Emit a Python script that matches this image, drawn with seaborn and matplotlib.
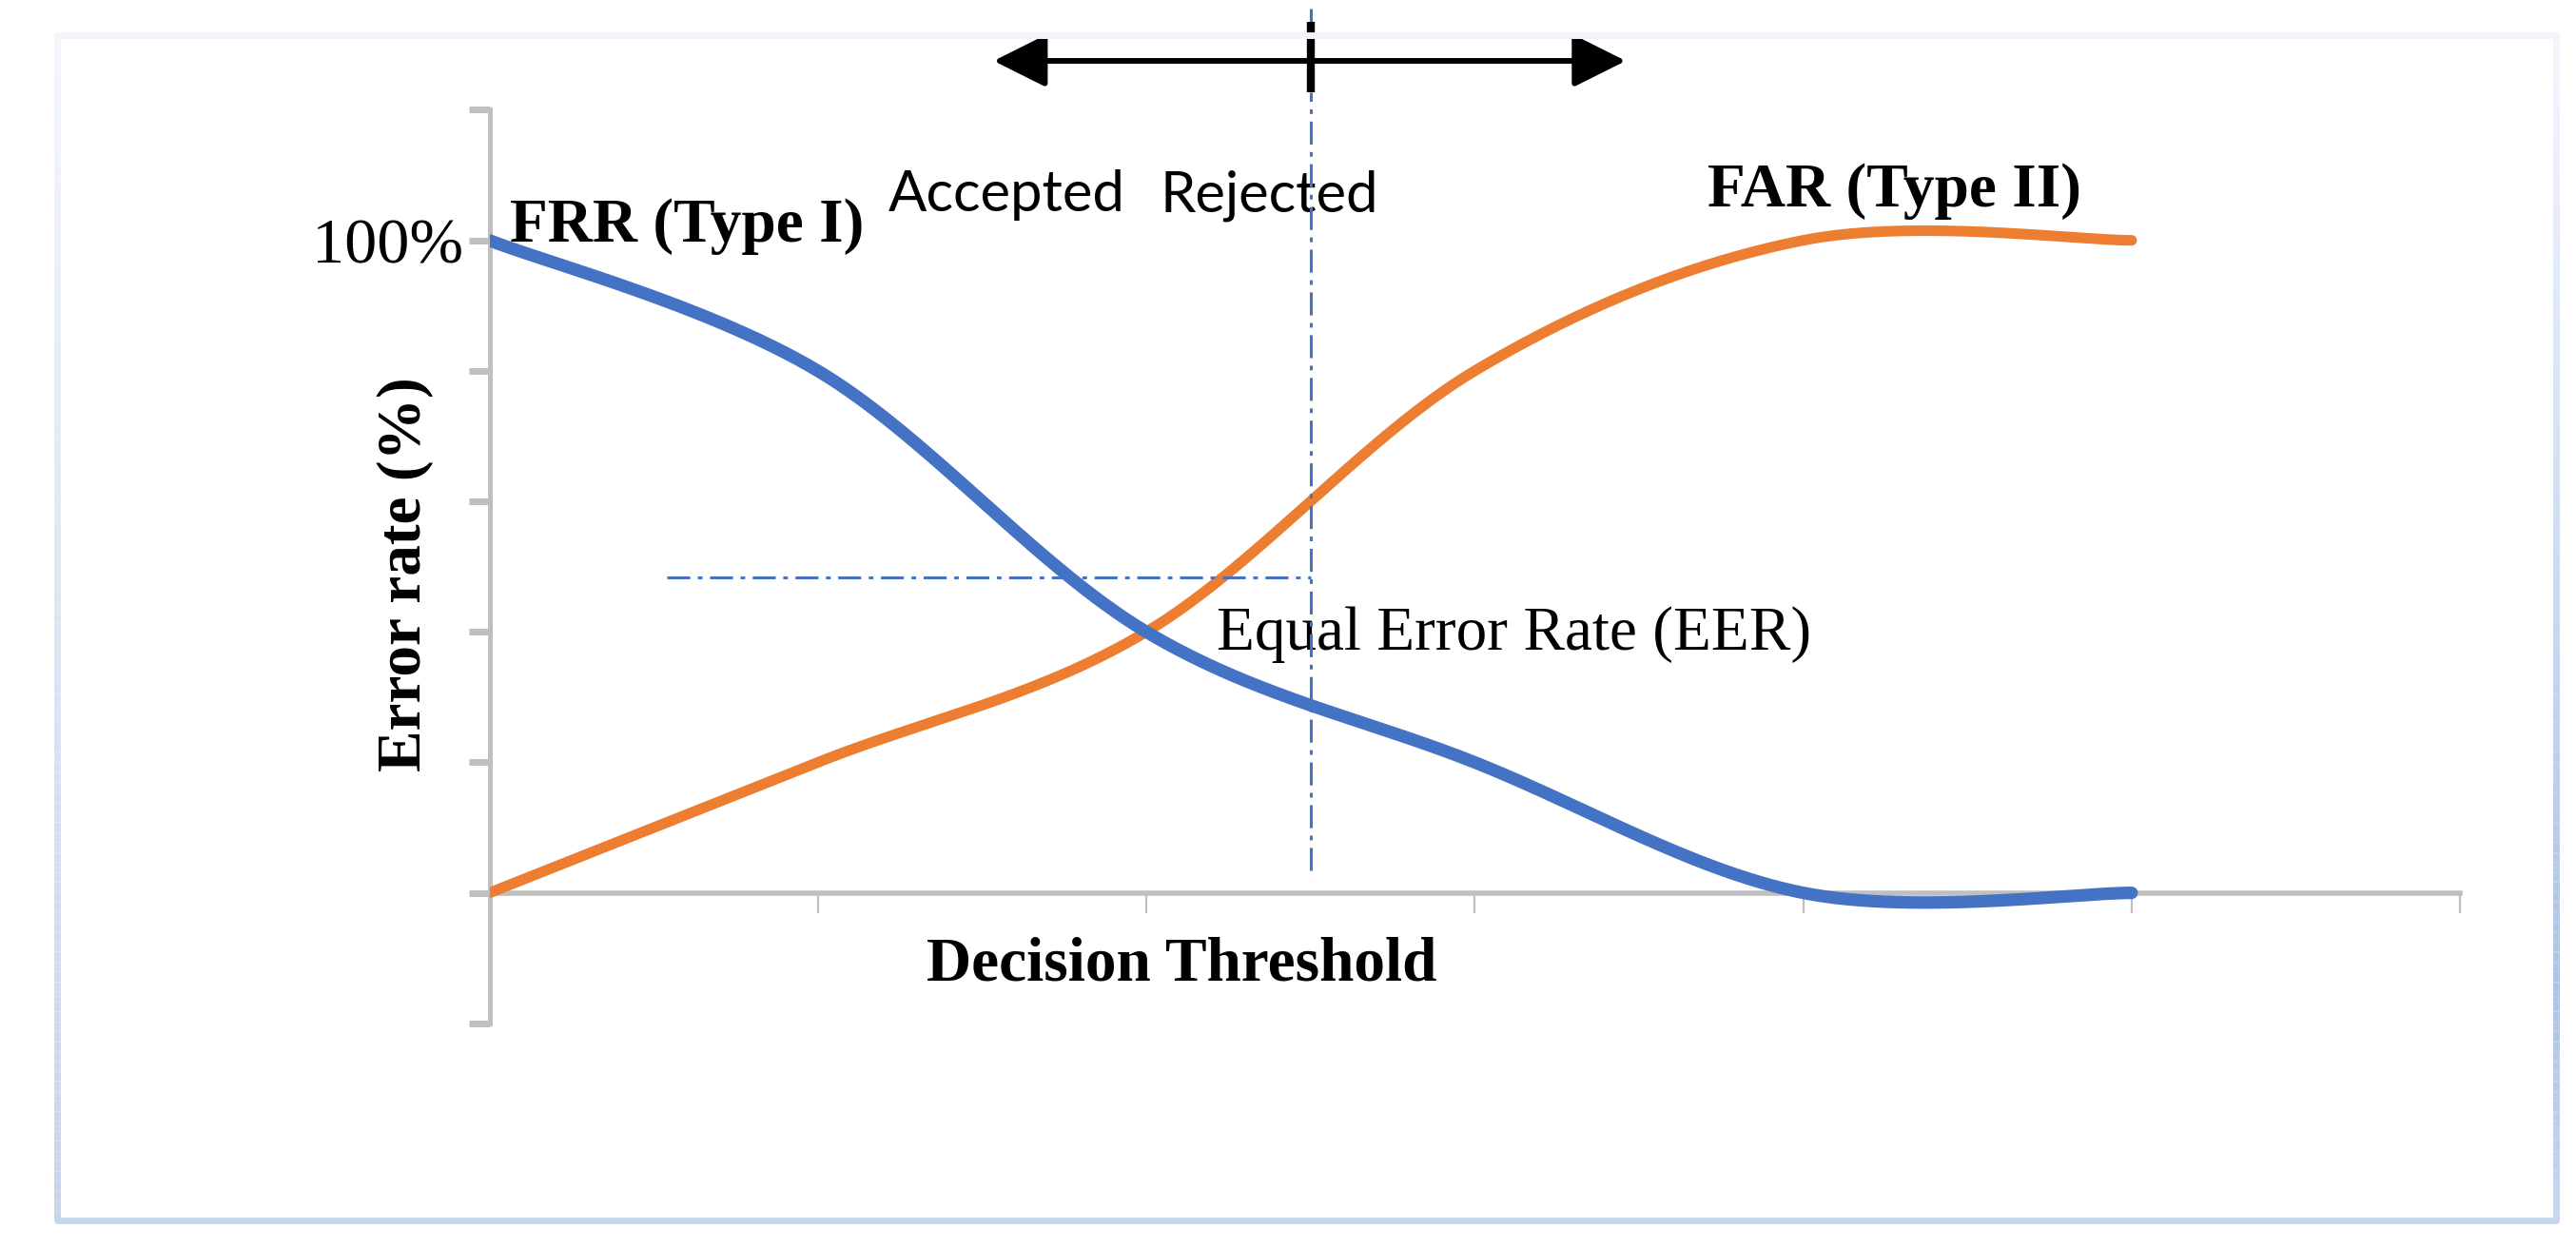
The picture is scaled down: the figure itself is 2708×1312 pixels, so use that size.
import numpy as np
import pandas as pd
import matplotlib
matplotlib.use("Agg")
import matplotlib.pyplot as plt
import seaborn as sns
from matplotlib.collections import LineCollection
from matplotlib.colors import to_rgb

# ---------------- data ----------------
thresholds = [0, 1, 2, 3, 4, 5]
frr_values = [1.0, 0.8, 0.4, 0.2, 0.0, 0.0]
far_values = [0.0, 0.2, 0.4, 0.8, 1.0, 1.0]
series_names = ["FRR (Type I)", "FAR (Type II)"]
series_colors = ["#4472C4", "#ED7D31"]
series_widths = [9.5, 8.0]
y_ticks = [-0.2, 0.0, 0.2, 0.4, 0.6, 0.8, 1.0, 1.2]
y_tick_labels = ["", "", "", "", "", "", "100%", ""]
x_ticks = [0, 1, 2, 3, 4, 5, 6]
threshold_x = 2.5
eer_level = 0.483
eer_line_start = 0.54

# ---------------- theme ----------------
sns.set_theme(style="white")
plt.rcParams["font.family"] = ["Liberation Serif", "DejaVu Sans"]
plt.rcParams["text.color"] = "black"
plt.rcParams["xtick.color"] = "black"
plt.rcParams["ytick.color"] = "black"
plt.rcParams["axes.labelcolor"] = "black"

SERIF = ["Liberation Serif", "DejaVu Serif"]
SANS = ["Lato", "DejaVu Sans"]
AXIS_GREY = "#BFBFBF"


def excel_smooth(xs, ys, n=60):
    """Catmull-Rom rendering, similar to Excel's 'smoothed line'."""
    p = np.column_stack([xs, ys]).astype(float)
    p = np.vstack([p[0], p, p[-1]])
    out = []
    t = np.linspace(0, 1, n, endpoint=False)[:, None]
    for i in range(len(p) - 3):
        p0, p1, p2, p3 = p[i], p[i + 1], p[i + 2], p[i + 3]
        seg = 0.5 * (2 * p1 + (-p0 + p2) * t
                     + (2 * p0 - 5 * p1 + 4 * p2 - p3) * t ** 2
                     + (-p0 + 3 * p1 - 3 * p2 + p3) * t ** 3)
        out.append(seg)
    out.append(p[-2][None, :])
    return np.vstack(out)


frames = []
for name, vals in zip(series_names, [frr_values, far_values]):
    c = excel_smooth(thresholds, vals)
    frames.append(pd.DataFrame({"x": c[:, 0], "y": c[:, 1], "series": name}))
df = pd.concat(frames, ignore_index=True)

fig = plt.figure(figsize=(27.08, 13.12), dpi=100)
fig.patch.set_facecolor("white")
ax = fig.add_axes([0.190, 0.180, 0.765, 0.732])
ax.set_facecolor("none")

# draw FAR first so FRR sits on top, as in the reference
for idx in [1, 0]:
    sns.lineplot(data=df[df["series"] == series_names[idx]], x="x", y="y",
                 color=series_colors[idx], estimator=None, sort=False,
                 linewidth=series_widths[idx], legend=False, ax=ax)
for ln in ax.get_lines():
    ln.set_solid_capstyle("round")
    ln.set_zorder(4)

ax.set_xlim(0, 6)
ax.set_ylim(-0.2, 1.2)
ax.set_xticks(x_ticks)
ax.set_xticklabels([""] * len(x_ticks))
ax.set_yticks(y_ticks)
ax.set_yticklabels(y_tick_labels, fontsize=49, family=SERIF, color="black")
ax.set_xlabel("")
ax.set_ylabel("")

for s in ["top", "right"]:
    ax.spines[s].set_visible(False)
ax.spines["bottom"].set_position(("data", 0))
ax.spines["bottom"].set_color(AXIS_GREY)
ax.spines["bottom"].set_linewidth(4)
ax.spines["left"].set_color(AXIS_GREY)
ax.spines["left"].set_linewidth(3.6)
ax.tick_params(axis="y", direction="out", length=16, width=5, color=AXIS_GREY,
               pad=4, left=True)
ax.tick_params(axis="x", direction="out", length=15, width=1.6, color=AXIS_GREY,
               bottom=True)

# reference lines
blue = series_colors[0]
dash = (7.9, 2.6, 1.6, 2.6)
tick_lo, tick_hi = 1.227, 1.335
ax.plot([eer_line_start, threshold_x], [eer_level, eer_level], color=blue,
        lw=2.2, dashes=dash, zorder=6)
ax.plot([threshold_x, threshold_x], [0.034, tick_lo], color=blue, lw=2.2,
        dashes=dash, clip_on=False, zorder=6)
ax.plot([threshold_x, threshold_x], [tick_hi, 1.355], color=blue, lw=2.2,
        clip_on=False, zorder=6, solid_capstyle="butt")

# threshold arrow at the top
ax.annotate("", xy=(3.46, 1.275), xytext=(1.535, 1.275),
            arrowprops=dict(arrowstyle="<|-|>,head_length=1.0,head_width=0.5",
                            mutation_scale=34, lw=4.3, color="black",
                            shrinkA=0, shrinkB=0),
            annotation_clip=False, zorder=7)
ax.plot([threshold_x, threshold_x], [tick_lo, tick_hi], color="black", lw=6,
        solid_capstyle="butt", clip_on=False, zorder=10)

# texts
ax.text(0.061, 1.022, "FRR (Type I)", fontsize=47, fontweight="bold",
        family=SERIF, ha="left", va="center", color="black")
ax.text(3.71, 1.076, "FAR (Type II)", fontsize=47, fontweight="bold",
        family=SERIF, ha="left", va="center", color="black")
ax.text(1.213, 1.044, "Accepted", fontsize=43, family=SANS,
        ha="left", va="baseline", zorder=3, color="black")
ax.text(2.042, 1.044, "Rejected", fontsize=43, family=SANS,
        ha="left", va="baseline", zorder=3, color="black")
ax.text(2.213, 0.372, "Equal Error Rate (EER)", fontsize=47, family=SERIF,
        ha="left", va="baseline", color="black")
ax.text(2.108, -0.111, "Decision Threshold", fontsize=47, fontweight="bold",
        family=SERIF, ha="center", va="center", clip_on=False, color="black")
ax.text(-0.255, 0.489, "Error rate (%)", fontsize=47, fontweight="bold",
        family=SERIF, ha="center", va="center", rotation=90, clip_on=False,
        color="black")

# outer frame (light blue, gradient edges)
L, R = 60 / 2708, 2687 / 2708
T, B = 1 - 37 / 1312, 1 - 1283 / 1312


def grad_edge(x0, x1, ys, cols, lw):
    ys = np.asarray(ys)
    yy = np.linspace(ys[0], ys[-1], 120)
    rgb = np.array([to_rgb(c) for c in cols])
    cc = np.column_stack([np.interp(yy, ys[::-1], rgb[::-1, k]) for k in range(3)])
    segs = [[(x0, yy[i]), (x1, yy[i + 1])] for i in range(len(yy) - 1)]
    lc = LineCollection(segs, colors=cc[:-1], linewidths=lw,
                        transform=fig.transFigure, capstyle="butt")
    fig.add_artist(lc)


grad_edge(L, L, [T, B], ["#F3F6FC", "#C6D4ED"], 5)
grad_edge(R, R, [T, 1 - 1030 / 1312, B], ["#F3F6FC", "#AFC3E6", "#C9D7EE"], 5)
fig.add_artist(plt.Line2D([L, R], [T, T], color="#F3F5FB", lw=5,
                          transform=fig.transFigure))
fig.add_artist(plt.Line2D([L, R], [B, B], color="#C9D7EE", lw=5,
                          transform=fig.transFigure))

fig.savefig("out.png", dpi=100, facecolor="white")
